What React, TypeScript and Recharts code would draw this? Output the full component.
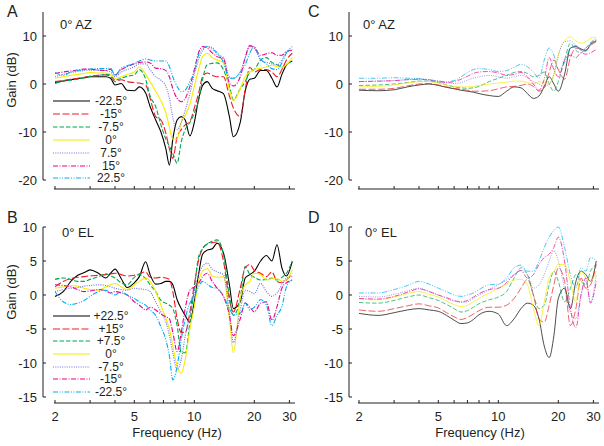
import { LineChart, Line, XAxis, YAxis } from "recharts";

// frequency samples (Hz)
const freqAB = [2, 2.2, 2.4, 2.6, 2.8, 3, 3.3, 3.6, 3.8, 4, 4.3, 4.6, 5, 5.3, 5.7, 6, 6.4, 6.8, 7.2, 7.5, 7.8, 8.2, 8.6, 9, 9.5, 10, 10.5, 11, 11.6, 12.3, 13, 14, 15, 15.7, 17, 18, 19, 20, 21.5, 23, 24.5, 26, 27.5, 29, 31];
const freqCD = [2, 2.5, 3, 3.5, 4, 4.5, 5, 5.5, 6, 6.5, 7, 7.5, 8, 9, 10, 11, 12, 13, 14, 15, 16, 17, 18, 19, 20, 21.5, 23, 24.5, 26, 27.5, 29, 31];
const freqTicks = [2, 3, 4, 5, 6, 7, 8, 9, 10, 20, 30];
const freqLabels = [2, 5, 10, 20, 30];

// A: 0° AZ, measured
const aNeg225 = [0.3, 0.6, 0.9, 1.1, 1.3, 1.5, 1.5, 1.5, 1.2, -0.2, 0.1, -1.3, -1.4, -0.6, -1.9, -4.7, -7.5, -10, -13.5, -16.9, -11.5, -7.5, -6.8, -7.5, -10.8, -8, -3.2, -0.3, 0.5, -0.9, -1.4, -2, -6.8, -11, -8, -1.5, 1.0, 1.2, 2.8, 2.8, 1.2, -0.6, 2.0, 4.0, 4.8];
const aNeg15 = [0.5, 0.7, 1.0, 1.2, 1.4, 1.6, 1.8, 1.9, 1.5, 0.5, 0.9, 0.5, 0.3, 0.2, -0.2, -3, -6.8, -7.5, -10.3, -13.5, -15.5, -11, -9.5, -8.5, -7.8, -5, -2, 1.5, 2.3, 1.8, 1.5, 1.5, -2.5, -5, -6.8, -1.2, 3.5, 2.5, 3.0, 3.0, 2.5, 1.5, 3, 5, 6.4];
const aNeg75 = [0.1, 0.6, 0.8, 1.0, 1.3, 1.6, 1.8, 2.0, 1.9, 0.8, 1.2, 1.6, 1.9, 3.0, 1.0, -2.5, -4.7, -8.5, -11.5, -13, -14.5, -16.5, -12, -9.5, -8, -6, -3.5, 1.0, 4.0, 4.3, 4.4, 3.0, -0.5, -3.3, -1.0, 0.5, 2.5, 3.0, 5.0, 5.5, 4.5, 4, 3.5, 4, 5];
const aZero = [1.2, 1.5, 1.8, 2.0, 2.2, 2.4, 2.3, 2.3, 2.0, 1.2, 1.5, 2.0, 2.5, 3.6, 2.0, 0.5, -1.5, -3.5, -6, -9, -11.5, -11.5, -8, -6.5, -4.2, -0.5, 3, 5.7, 6.4, 5.5, 5, 4.5, -1.2, -3.5, -1, 1.5, 2.5, 3, 3.3, 3.6, 3.9, 3.6, 3.5, 4, 5.5];
const aPos75 = [1.5, 2.0, 2.4, 2.6, 2.8, 2.9, 2.9, 2.8, 2.5, 1.5, 2.5, 3.0, 3.6, 4.2, 4.2, 3.0, 1.5, 0.8, -0.5, -3, -7, -9.5, -8, -5.5, -2, 2, 5, 7, 7.8, 7.6, 6.2, 5.5, 1.5, 1.2, 2.5, 5.5, 7.8, 7.5, 5, 4.5, 4.2, 4, 5, 6.5, 7.2];
const aPos15 = [2.2, 2.5, 2.7, 2.9, 3.1, 3.1, 2.9, 2.8, 3.1, 1.9, 3.0, 3.6, 4.2, 4.5, 4.6, 4.4, 3.3, 3.2, 2.8, 1.5, -1, -3, -3.7, -3, -0.5, 3, 6.5, 7.8, 7.5, 6.5, 5.7, 5.3, 0.2, -0.4, 1.5, 5.5, 8, 7.5, 6, 6.3, 6.5, 6, 6, 6.8, 7];
const aPos225 = [2.4, 1.8, 2.5, 2.8, 3.0, 3.1, 3.2, 3.2, 3.3, 1.8, 3.3, 3.8, 4.3, 4.8, 5.2, 5.0, 4.8, 4.8, 4.8, 3.6, 1.5, -0.5, -1.6, -1.3, 0.5, 2.5, 6, 7.3, 7.8, 7.2, 6.6, 4.5, 1.2, 1.2, 2.5, 4, 6.5, 7.8, 5.2, 4.2, 3.2, 3, 4.4, 6.5, 7.8];

// B: 0° EL, measured
const bPos225 = [-0.2, 0.5, 2.0, 2.9, 3.3, 3.7, 3.2, 2.5, 3.2, 3.8, 2.4, 1.1, 1.8, 2.7, 4.9, 3.0, 1.6, 1.7, 2.0, 2.0, 1.5, -0.7, -2.0, -3.0, -4.0, -1.0, 3.0, 6.0, 6.6, 6.8, 7.6, 6.2, 1.5, -2.0, -1.0, 2.5, 3.0, 3.5, 5.0, 5.8, 5.0, 7.4, 4.0, 2.8, 4.9];
const bPos15 = [1.2, 2.0, 2.4, 2.6, 2.7, 2.8, 2.9, 3.0, 3.1, 3.2, 3.0, 2.8, 2.9, 3.1, 3.4, 2.6, 2.5, 2.6, 2.5, 2.3, 0.5, -3.5, -5.5, -5.5, -2.5, 1.5, 5.1, 6.8, 7.5, 7.7, 7.8, 5.0, -0.7, -2.5, 1.0, 4.0, 4.5, 3.6, 3.2, 2.7, 3.4, 2.0, 1.8, 2.2, 3.2];
const bPos75 = [2.3, 2.5, 2.3, 2.0, 2.0, 2.3, 2.7, 3.1, 2.8, 2.5, 1.8, 1.5, 2.6, 3.0, 2.4, 1.5, 0.5, -0.8, -1.2, -1.5, -2.0, -4.5, -8.5, -8.5, -4.0, 1.0, 5.6, 6.8, 7.5, 7.9, 8.1, 6.0, -0.2, -3.0, -0.5, 4.2, 3.0, 2.6, 2.2, 2.3, 2.5, 2.2, 2.6, 3.2, 5.0];
const bZero = [1.0, 1.2, 1.4, 1.3, 1.0, 0.8, 0.7, 1.2, 1.5, 1.7, 1.2, 0.8, 1.5, 2.0, 2.5, 2.0, 0.5, -1.5, -3.5, -5.0, -7.5, -10.5, -11.5, -9.5, -5.0, -1.7, 2.0, 3.5, 3.9, 2.8, 2.6, 2.7, -3.5, -8.5, -0.5, 1.5, 2.0, 3.2, 3.0, 2.2, 2.4, 2.4, 2.0, 2.2, 3.7];
const bNeg75 = [0.5, 0.8, 1.0, 1.1, 1.3, 1.4, 1.5, 1.4, 1.2, 1.0, 0.8, 0.7, 1.0, 0.9, 0.8, 0.5, -1.0, -2.5, -4.0, -6.0, -8.5, -11.0, -9.5, -6.0, -3.0, 0.5, 3.0, 4.2, 4.7, 3.8, 3.4, 3.0, -2.5, -7.0, -2.2, 0.7, 0.5, 0.2, 1.7, 0.5, -0.2, 0.3, 1.5, 2.5, 2.7];
const bNeg15 = [1.5, 1.4, 1.2, 0.8, 0.5, 0.6, 0.8, 0.6, 0.3, 0.5, 0.3, 0, -1.0, -1.5, -2.2, -1.8, -2.2, -2.8, -3.2, -3.5, -5.5, -8.3, -5.5, -2.0, 0.7, 1.2, 1.7, 2.7, 3.2, 2.0, 1.0, -0.2, -3.0, -6.0, -3.5, -1.2, -1.8, -2.5, -1.2, -1.0, -3.7, -1.7, 1.0, 1.8, 2.2];
const bNeg225 = [0.5, -1.0, -1.4, -1.2, -0.8, -0.2, 0.5, 0.7, 0.3, 0, 0.5, 0, -0.5, -1.0, -1.5, -2.2, -3.0, -4.7, -6.6, -9.0, -12.5, -10.5, -6.5, -3.5, -1.2, -0.2, 1.2, 2.0, 1.6, 1.1, 1.0, -0.2, -2.0, -2.9, -2.7, -1.2, -2.2, -1.8, -0.7, -1.5, -4.5, -3.0, -1.7, 1.2, 2.2];

// C: 0° AZ, model
const cNeg225 = [-1.3, -1.4, -1.2, -0.6, -0.2, 0, -0.3, -0.7, -1.0, -1.3, -1.5, -1.7, -2.0, -2.4, -2.6, -1.5, -0.6, -0.8, -2.0, -3.0, -2.5, -0.5, 1.5, 0, -1.5, 2.0, 7.5, 7.8, 7.3, 7.0, 8.2, 9.0];
const cNeg15 = [-1.1, -1.1, -0.9, -0.4, 0, 0.1, -0.2, -0.6, -0.9, -1.1, -1.3, -1.5, -1.5, -1.4, -1.0, -0.6, -0.5, -0.3, 0, -0.5, -1.5, -0.8, 2.5, 5.0, 3, 1, 5.5, 7.5, 7.2, 7.0, 8.0, 8.8];
const cNeg75 = [-0.3, -0.2, 0, 0.3, 0.6, 0.6, 0.3, -0.2, -0.6, -0.8, -0.9, -0.8, -0.5, 0.5, 1.2, 1.8, 2.4, 2.6, 2.2, 1.5, 1.8, 2.5, 0, -1.5, 0.5, 5, 8.5, 7.0, 6.5, 7.5, 8.5, 9.2];
const cZero = [-0.6, -0.5, -0.2, 0.2, 0.5, 0.5, 0.2, -0.2, -0.5, -0.6, -0.6, -0.5, -0.3, 0, 0.2, 0.4, 0.6, 0.6, 0.3, 0, 0.5, 0.3, 0, 2, 6, 9, 9.8, 9.0, 8.5, 8.8, 9.5, 9.8];
const cPos75 = [0.5, 0.6, 0.7, 0.9, 1.0, 0.9, 0.6, 0.3, 0.1, 0.3, 0.8, 1.2, 1.5, 1.8, 1.5, 1.2, 1.5, 1.8, 1.3, 0.5, 0, -0.5, 0, 2, 6, 8.8, 9.0, 8.0, 7.0, 7.5, 8.5, 9.0];
const cPos15 = [0.5, 0.6, 0.7, 0.9, 1.0, 0.8, 0.5, 0.3, 0.5, 1.0, 1.6, 2.2, 2.5, 2.6, 2.3, 1.8, 2.0, 2.4, 1.5, 0, -1.3, 1, 5.5, 3, 1.5, 5, 6, 5.5, 6.5, 6.2, 6.5, 7.2];
const cPos225 = [1.2, 1.2, 1.3, 1.2, 1.1, 0.9, 0.6, 0.5, 0.7, 1.5, 2.4, 3.0, 3.2, 3.0, 2.6, 2.8, 3.5, 4.1, 3.6, 2.5, 1.2, 5, 7.5, 6, 3, 4.5, 7.5, 8, 7, 6.8, 8.5, 9.5];

// D: 0° EL, model
const dPos225 = [-2.7, -3.0, -2.6, -2.2, -2.0, -2.2, -2.4, -3.0, -3.7, -4.2, -4.1, -3.6, -2.9, -2.4, -2.8, -4.5, -3.5, -2.0, -1.2, -1.5, -3.5, -7.5, -9.2, -6.0, -0.5, 1.0, -2.0, 2.0, 3.5, 3.0, 2.0, 5.0];
const dPos15 = [-2.2, -2.4, -2.0, -1.6, -1.3, -1.6, -1.9, -2.6, -3.2, -3.6, -3.3, -2.8, -2.3, -1.8, -1.8, -1.5, -0.5, 1.0, 2.3, 0, -3.5, -4.0, -1.5, 1.5, 4.0, 2.0, -4.5, -2.0, 2.5, 1.0, 1.5, 4.5];
const dPos75 = [-1.1, -1.2, -0.8, -0.3, 0, -0.4, -0.8, -1.4, -2.0, -2.5, -2.3, -1.8, -1.3, -0.7, -0.3, 0.5, 2.5, 4.0, 3.0, 0, -2.0, -1.5, 1.5, 3.5, 2.0, -1.0, 1.0, 3.0, 2.0, 1.5, 3.5, 4.5];
const dZero = [-0.6, -0.7, -0.3, 0.2, 0.5, 0.1, -0.3, -0.9, -1.4, -1.7, -1.5, -1.0, -0.5, 0.3, 1.0, 1.6, 2.2, 2.3, 1.5, -2.0, -4.5, -1.0, 2.5, 3.5, 4.5, 4.5, 2.0, -1.0, 3.5, 2.5, 2.0, 3.5];
const dNeg75 = [-0.2, -0.3, 0.1, 0.6, 1.0, 0.5, 0, -0.5, -0.9, -1.1, -1.0, -0.5, 0, 0.8, 1.5, 2.2, 3.0, 3.6, 3.0, 1.0, 1.5, 3.0, 5.0, 6.5, 5.0, 1.0, -2.5, -3.5, 0, 2.0, -1.0, 3.0];
const dNeg15 = [-0.5, -0.6, -0.2, 0.4, 0.9, 0.5, 0, -0.4, -0.8, -1.0, -0.8, -0.3, 0.2, 0.8, 1.0, 1.8, 3.0, 3.6, 2.5, 3.0, 4.5, 5.5, 6.0, 7.0, 8.5, 5.0, -2.0, -4.8, 0, 2.5, -1.2, 2.0];
const dNeg225 = [0.3, 0.3, 0.8, 1.4, 2.0, 1.6, 1.0, 0.5, 0, -0.2, 0, 0.3, 0.8, 1.5, 1.6, 2.5, 4.0, 4.4, 3.5, 3.5, 5.0, 7.0, 8.5, 9.5, 10.0, 7.0, 3.0, 1.0, 4.0, 3.5, 5.5, 5.0];

const azLabels = ["-22.5", "-15", "-7.5", "0", "7.5", "15", "22.5"];
const elLabels = ["+22.5", "+15", "+7.5", "0", "-7.5", "-15", "-22.5"];

const styles = [
  { color: "#000000", dash: undefined },
  { color: "#ed1c24", dash: "7 2.5" },
  { color: "#00a651", dash: "4.5 2" },
  { color: "#f7ec00", dash: undefined },
  { color: "#6f6fe8", dash: "1 1.3" },
  { color: "#ec008c", dash: "5 1.5 1 1.5" },
  { color: "#00aeef", dash: "5 1.5 1 1.5 1 1.5" },
];

const FONT = "'Liberation Sans', Arial, sans-serif";
const INK = "#231f20";

function buildRows(freq: number[], series: number[][]) {
  return freq.map((f, i) => {
    const row: Record<string, number> = { f };
    series.forEach((s, k) => {
      row[`s${k}`] = s[i];
    });
    return row;
  });
}

const rowsA = buildRows(freqAB, [aNeg225, aNeg15, aNeg75, aZero, aPos75, aPos15, aPos225]);
const rowsB = buildRows(freqAB, [bPos225, bPos15, bPos75, bZero, bNeg75, bNeg15, bNeg225]);
const rowsC = buildRows(freqCD, [cNeg225, cNeg15, cNeg75, cZero, cPos75, cPos15, cPos225]);
const rowsD = buildRows(freqCD, [dPos225, dPos15, dPos75, dZero, dNeg75, dNeg15, dNeg225]);

function Panel({ rows, left, top, width, height, yWidth, marginTop, xHeight, yDomain, yTicks, padLeft, padBottom, axisLen, showLabels, lineWidth }: any) {
  return (
    <div style={{ position: "absolute", left, top }}>
      <LineChart width={width} height={height} data={rows} margin={{ top: marginTop, right: 5, bottom: 0, left: 0 }}>
        <XAxis
          dataKey="f"
          type="number"
          scale="log"
          domain={[2, 32]}
          allowDataOverflow
          ticks={freqTicks}
          interval={0}
          padding={{ left: padLeft, right: 0 }}
          height={xHeight}
          tickSize={-3}
          tickMargin={12}
          tickFormatter={(v: number) => (showLabels && freqLabels.includes(v) ? String(v) : "")}
          tick={{ fill: INK, fontSize: 13, fontFamily: FONT }}
          axisLine={{ stroke: INK, strokeDasharray: `0 ${padLeft - 1} 400` }}
          tickLine={{ stroke: INK }}
        />
        <YAxis
          type="number"
          domain={yDomain}
          ticks={yTicks}
          interval={0}
          width={yWidth}
          padding={{ top: 0, bottom: padBottom }}
          tickSize={-3}
          tickMargin={9}
          tick={{ fill: INK, fontSize: 13, fontFamily: FONT }}
          axisLine={{ stroke: INK, strokeDasharray: `${axisLen} 400` }}
          tickLine={{ stroke: INK }}
        />
        {styles.map((s, i) => (
          <Line
            key={i}
            dataKey={`s${i}`}
            type="monotone"
            stroke={s.color}
            strokeDasharray={s.dash}
            strokeWidth={lineWidth}
            dot={false}
            isAnimationActive={false}
          />
        ))}
      </LineChart>
    </div>
  );
}

function LegendBox({ labels, left, top, step }: any) {
  return (
    <div style={{ position: "absolute", left, top, fontFamily: FONT, fontSize: 12, color: INK }}>
      {labels.map((lab: string, i: number) => (
        <div key={lab} style={{ position: "absolute", left: 0, top: i * step - 7, height: 14, width: 80, display: "flex", alignItems: "center" }}>
          <svg width={38} height={14}>
            <line x1={0} y1={7} x2={37} y2={7} stroke={styles[i].color} strokeWidth={1.1} strokeDasharray={styles[i].dash} />
          </svg>
          <span style={{ width: 36, textAlign: "center", marginLeft: 2 }}>
            {lab}°
          </span>
        </div>
      ))}
    </div>
  );
}

const text = (content: string, left: number, top: number, size: number, extra: any = {}) => (
  <div style={{ position: "absolute", left, top, fontSize: size, fontFamily: FONT, color: INK, lineHeight: 1, whiteSpace: "nowrap", ...extra }}>
    {content}
  </div>
);

export default function App() {
  return (
    <div style={{ position: "absolute", left: 0, top: 0, width: 604, height: 446, background: "#ffffff", overflow: "hidden" }}>
      <Panel rows={rowsA} left={0} top={0} width={300} height={215} yWidth={43} marginTop={12} xHeight={26}
        yDomain={[-20, 15]} yTicks={[-20, -10, 0, 10]} padLeft={12} padBottom={9} axisLen={168} showLabels={false} lineWidth={1.1} />
      <Panel rows={rowsC} left={300} top={0} width={304} height={215} yWidth={49} marginTop={12} xHeight={26}
        yDomain={[-20, 15]} yTicks={[-20, -10, 0, 10]} padLeft={10} padBottom={9} axisLen={168} showLabels={false} lineWidth={0.7} />
      <Panel rows={rowsB} left={0} top={220} width={300} height={226} yWidth={43} marginTop={7} xHeight={43}
        yDomain={[-15, 10]} yTicks={[-15, -10, -5, 0, 5, 10]} padLeft={12} padBottom={6} axisLen={170} showLabels={true} lineWidth={1.1} />
      <Panel rows={rowsD} left={300} top={220} width={304} height={226} yWidth={49} marginTop={7} xHeight={43}
        yDomain={[-15, 10]} yTicks={[-15, -10, -5, 0, 5, 10]} padLeft={10} padBottom={6} axisLen={170} showLabels={true} lineWidth={0.7} />

      <LegendBox labels={azLabels} left={53} top={101} step={12.9} />
      <LegendBox labels={elLabels} left={53} top={316} step={12.65} />

      {text("A", 7, 4, 16)}
      {text("B", 7, 210, 16)}
      {text("C", 308, 4, 16)}
      {text("D", 308, 210, 16)}
      {text("0° AZ", 60, 18, 13)}
      {text("0° AZ", 363, 18, 13)}
      {text("0° EL", 62, 226, 13)}
      {text("0° EL", 365, 226, 13)}
      {text("Gain (dB)", 11, 80, 13, { transform: "translate(-50%, -50%) rotate(-90deg)" })}
      {text("Gain (dB)", 11, 292, 13, { transform: "translate(-50%, -50%) rotate(-90deg)" })}
      {text("Frequency (Hz)", 177, 426, 13, { transform: "translateX(-50%)" })}
      {text("Frequency (Hz)", 480, 426, 13, { transform: "translateX(-50%)" })}
    </div>
  );
}
